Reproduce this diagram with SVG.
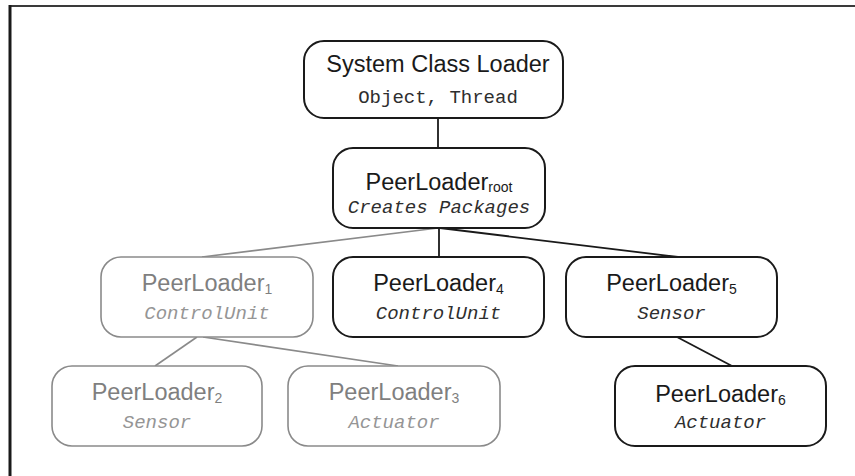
<svg xmlns="http://www.w3.org/2000/svg" width="855" height="476" viewBox="0 0 855 476">
<style>
.box{fill:#fff;stroke:#1a1a1a;stroke-width:2}
.gbox{fill:#fff;stroke:#8a8a8a;stroke-width:1.6}
.t{font-family:"Liberation Sans",Arial,sans-serif;font-size:23.5px;fill:#1a1a1a;text-anchor:middle}
.g .t{fill:#7f7f7f}
.m{font-family:"Liberation Mono","Courier New",monospace;font-size:19px;fill:#2e2e2e;text-anchor:middle;font-style:italic}
.g .m{fill:#959595}
.sub{font-size:14px}
.ln{stroke:#1a1a1a;stroke-width:1.8;fill:none}
.gln{stroke:#8a8a8a;stroke-width:1.6;fill:none}
</style>
<rect width="855" height="476" fill="#fff"/>
<g id="frame">
<line x1="9" y1="6" x2="855" y2="6" stroke="#3a3a3a" stroke-width="2"/>
<line x1="10" y1="5" x2="10" y2="476" stroke="#1a1a1a" stroke-width="3"/>
</g>
<g id="connectors">
<line class="ln" x1="438" y1="118" x2="438" y2="148"/>
<line class="gln" x1="438" y1="228" x2="202" y2="257"/>
<line class="ln" x1="439" y1="228" x2="439" y2="257"/>
<line class="ln" x1="440" y1="228" x2="678" y2="257"/>
<line class="gln" x1="197" y1="337" x2="155" y2="366"/>
<line class="gln" x1="203" y1="337" x2="398" y2="366"/>
<line class="ln" x1="677" y1="337" x2="732" y2="366"/>
</g>
<g id="scl">
<rect class="box" x="304" y="41" width="259" height="77" rx="20"/>
<text class="t" x="438" y="72">System Class Loader</text>
<text class="m" x="438" y="103" style="font-style:normal">Object, Thread</text>
</g>
<g id="root">
<rect class="box" x="333" y="148" width="212" height="80" rx="20"/>
<text class="t" x="439" y="190">PeerLoader<tspan class="sub" dy="2">root</tspan></text>
<text class="m" x="439" y="213">Creates Packages</text>
</g>
<g id="pl1" class="g">
<rect class="gbox" x="101" y="257" width="212" height="80" rx="20"/>
<text class="t" x="207" y="291">PeerLoader<tspan class="sub" dy="3">1</tspan></text>
<text class="m" x="207" y="319">ControlUnit</text>
</g>
<g id="pl4">
<rect class="box" x="333" y="257" width="211" height="80" rx="20"/>
<text class="t" x="438.5" y="291">PeerLoader<tspan class="sub" dy="3">4</tspan></text>
<text class="m" x="438.5" y="319">ControlUnit</text>
</g>
<g id="pl5">
<rect class="box" x="566" y="257" width="211" height="80" rx="20"/>
<text class="t" x="671.5" y="291">PeerLoader<tspan class="sub" dy="3">5</tspan></text>
<text class="m" x="671.5" y="319">Sensor</text>
</g>
<g id="pl2" class="g">
<rect class="gbox" x="52" y="366" width="210" height="80" rx="20"/>
<text class="t" x="157" y="400">PeerLoader<tspan class="sub" dy="3">2</tspan></text>
<text class="m" x="157" y="428">Sensor</text>
</g>
<g id="pl3" class="g">
<rect class="gbox" x="288" y="366" width="212" height="80" rx="20"/>
<text class="t" x="394" y="400">PeerLoader<tspan class="sub" dy="3">3</tspan></text>
<text class="m" x="394" y="428">Actuator</text>
</g>
<g id="pl6">
<rect class="box" x="615" y="366" width="211" height="80" rx="20"/>
<text class="t" x="720.5" y="402">PeerLoader<tspan class="sub" dy="3">6</tspan></text>
<text class="m" x="720.5" y="428">Actuator</text>
</g>
</svg>
